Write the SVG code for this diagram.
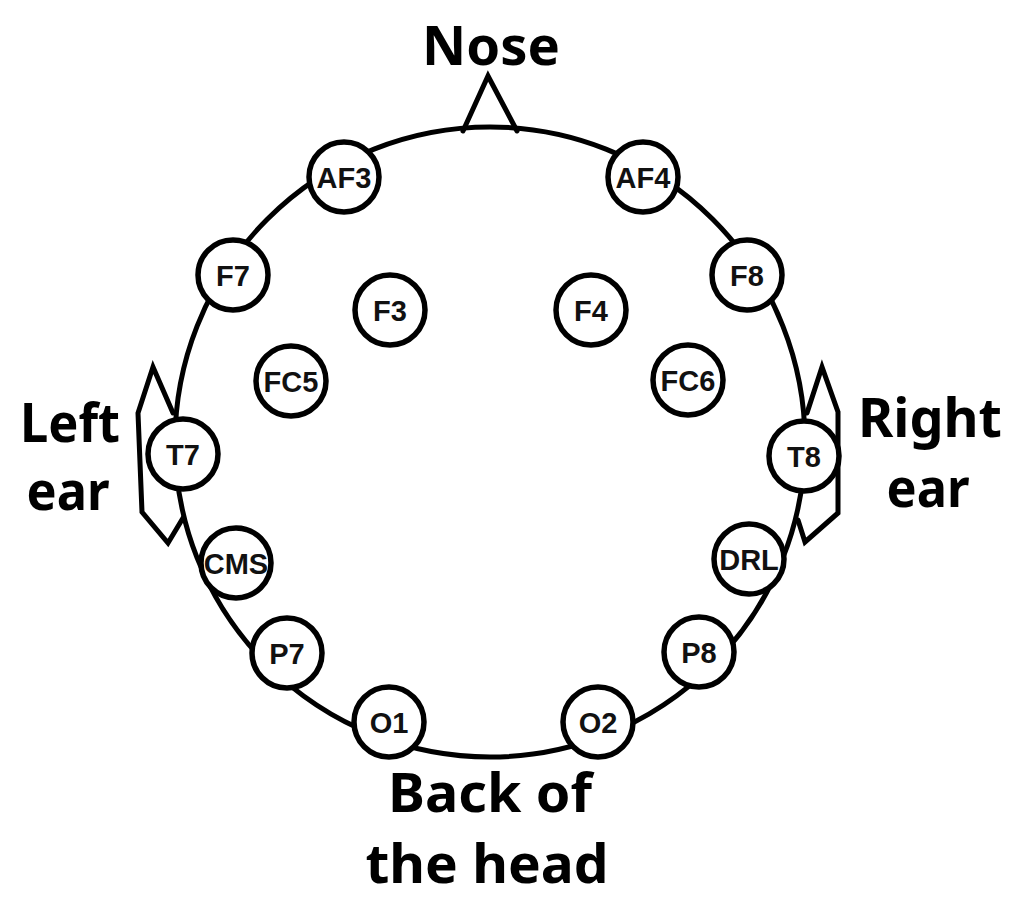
<svg xmlns="http://www.w3.org/2000/svg" width="1024" height="910" viewBox="0 0 1024 910">
<style>
.ln{fill:none;stroke:#000;stroke-width:5;stroke-linejoin:miter;stroke-linecap:round}
.el circle{fill:#fff;stroke:#000;stroke-width:5.5}
.el text{font-family:"Liberation Sans",Arial,sans-serif;font-weight:bold;font-size:29px;text-anchor:middle;fill:#111}
.big{font-family:"Noto Sans","Open Sans",sans-serif;font-weight:bold;font-size:54px;text-anchor:middle;fill:#000}
</style>
<rect width="1024" height="910" fill="#fff"/>
<g id="head">
<circle class="ln" cx="490" cy="442" r="315"/>
<polyline class="ln" points="463,131 488,76 517,131"/>
<polyline class="ln" points="173,413 153,367 138,413 142,512 168,543 183,518"/>
<polyline class="ln" points="807,413 822,367 838,412 838,513 805,542 798,520"/>
</g>
<g id="labels">
<text class="big" x="491" y="65" textLength="138" lengthAdjust="spacingAndGlyphs">Nose</text>
<text class="big" x="70" y="442" textLength="100" lengthAdjust="spacingAndGlyphs">Left</text>
<text class="big" x="68" y="510" textLength="83" lengthAdjust="spacingAndGlyphs">ear</text>
<text class="big" x="930" y="437" textLength="144" lengthAdjust="spacingAndGlyphs">Right</text>
<text class="big" x="928" y="507" textLength="83" lengthAdjust="spacingAndGlyphs">ear</text>
<text class="big" x="490" y="812" textLength="204" lengthAdjust="spacingAndGlyphs">Back of</text>
<text class="big" x="487" y="883" textLength="243" lengthAdjust="spacingAndGlyphs">the head</text>
</g>
<g id="AF3" class="el"><circle cx="344" cy="177" r="35"/><text x="344" y="188">AF3</text></g>
<g id="AF4" class="el"><circle cx="643" cy="177" r="35"/><text x="643" y="188">AF4</text></g>
<g id="F7" class="el"><circle cx="233" cy="275" r="35"/><text x="233" y="286">F7</text></g>
<g id="F8" class="el"><circle cx="747" cy="275" r="35"/><text x="747" y="286">F8</text></g>
<g id="F3" class="el"><circle cx="390" cy="310" r="35"/><text x="390" y="321">F3</text></g>
<g id="F4" class="el"><circle cx="591" cy="310" r="35"/><text x="591" y="321">F4</text></g>
<g id="FC5" class="el"><circle cx="291" cy="381" r="35"/><text x="291" y="392">FC5</text></g>
<g id="FC6" class="el"><circle cx="688" cy="380" r="35"/><text x="688" y="391">FC6</text></g>
<g id="T7" class="el"><circle cx="183" cy="454" r="35"/><text x="183" y="465">T7</text></g>
<g id="T8" class="el"><circle cx="804" cy="456" r="35"/><text x="804" y="467">T8</text></g>
<g id="CMS" class="el"><circle cx="236" cy="563" r="35"/><text x="236" y="574">CMS</text></g>
<g id="DRL" class="el"><circle cx="749" cy="559" r="35"/><text x="749" y="570">DRL</text></g>
<g id="P7" class="el"><circle cx="287" cy="653" r="35"/><text x="287" y="664">P7</text></g>
<g id="P8" class="el"><circle cx="699" cy="652" r="35"/><text x="699" y="663">P8</text></g>
<g id="O1" class="el"><circle cx="389" cy="722" r="35"/><text x="389" y="733">O1</text></g>
<g id="O2" class="el"><circle cx="598" cy="722" r="35"/><text x="598" y="733">O2</text></g>
</svg>
